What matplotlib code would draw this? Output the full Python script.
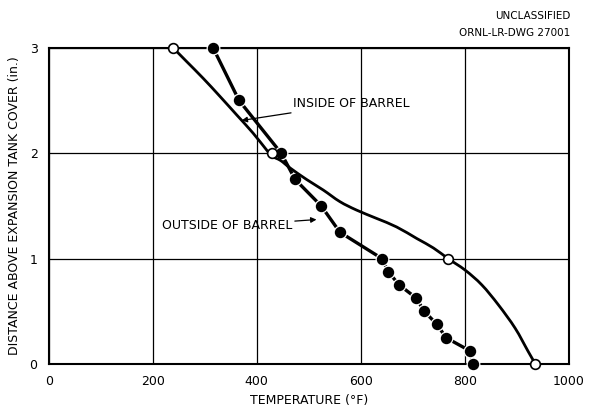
import matplotlib
matplotlib.use("Agg")
import matplotlib.pyplot as plt
from matplotlib.path import Path
from matplotlib.patches import PathPatch

# Outside of barrel (filled points)
out_temp = [316, 366, 447, 474, 524, 560, 641, 653, 674, 707, 722, 747, 764, 810, 816]
out_dist = [3.0, 2.5, 2.0, 1.75, 1.5, 1.25, 1.0, 0.875, 0.75, 0.625, 0.5, 0.375, 0.25, 0.125, 0.0]

# Inside of barrel (measured open points)
in_temp_pts = [239, 430, 768, 936]
in_dist_pts = [3.0, 2.0, 1.0, 0.0]

# Inside of barrel smooth curve
in_curve_temp = [239, 265, 297, 329, 362, 393, 419, 430, 446, 464, 496, 528, 560, 592,
                 631, 669, 708, 740, 768, 801, 833, 865, 897, 922, 936]
in_curve_dist = [3.0, 2.87, 2.71, 2.54, 2.36, 2.19, 2.03, 1.97, 1.93, 1.86, 1.75, 1.65, 1.54, 1.46,
                 1.38, 1.30, 1.19, 1.10, 1.0, 0.89, 0.75, 0.56, 0.34, 0.12, 0.0]

x_ticks = [0, 200, 400, 600, 800, 1000]
x_ticklabels = ["0", "200", "400", "600", "800", "1000"]
y_ticks = [0, 1, 2, 3]
y_ticklabels = ["0", "1", "2", "3"]


def smooth_path(xs, ys):
    """Catmull-Rom spline through the traced points, drawn as cubic Beziers."""
    pts = list(zip(xs, ys))
    n = len(pts)
    verts = [pts[0]]
    codes = [Path.MOVETO]
    for i in range(n - 1):
        p0 = pts[i - 1] if i > 0 else pts[i]
        p1 = pts[i]
        p2 = pts[i + 1]
        p3 = pts[i + 2] if i + 2 < n else pts[i + 1]
        c1 = (p1[0] + (p2[0] - p0[0]) / 6.0, p1[1] + (p2[1] - p0[1]) / 6.0)
        c2 = (p2[0] - (p3[0] - p1[0]) / 6.0, p2[1] - (p3[1] - p1[1]) / 6.0)
        verts += [c1, c2, p2]
        codes += [Path.CURVE4] * 3
    return Path(verts, codes)


plt.rcParams['font.family'] = ['DejaVu Sans']
fig = plt.figure(figsize=(5.89, 4.08), dpi=100)
ax = fig.add_axes([0.0827, 0.1078, 0.8828, 0.7753])
ax.set_xlim(0, 1000)
ax.set_ylim(0, 3)

ax.set_xticks(x_ticks)
ax.set_xticklabels(x_ticklabels, fontsize=9)
ax.set_yticks(y_ticks)
ax.set_yticklabels(y_ticklabels, fontsize=9)
ax.tick_params(length=0, pad=8)
ax.grid(True, color='black', linewidth=0.9)
for s in ax.spines.values():
    s.set_linewidth(1.5)
    s.set_color('black')

# Outside of barrel: thick line with gaps at markers
ax.plot(out_temp, out_dist, color='black', linewidth=2.4, marker='o', markersize=7.8,
        markerfacecolor='black', markeredgecolor='white', markeredgewidth=2.2, zorder=3, clip_on=False)
ax.plot(out_temp, out_dist, linestyle='none', marker='o', markersize=7.2,
        markerfacecolor='black', markeredgecolor='black', zorder=4, clip_on=False)

# Inside of barrel: smooth curve with open circles
patch = PathPatch(smooth_path(in_curve_temp, in_curve_dist), facecolor='none',
                  edgecolor='black', linewidth=2.0, zorder=5, clip_on=False)
ax.add_patch(patch)
ax.plot(in_temp_pts, in_dist_pts, linestyle='none', marker='o', markersize=7,
        markerfacecolor='white', markeredgecolor='black', markeredgewidth=1.2, zorder=6, clip_on=False)

# Annotations
ax.annotate("INSIDE OF BARREL", xy=(371, 2.31), xytext=(470, 2.47),
            fontsize=9, va='center', ha='left',
            arrowprops=dict(arrowstyle='-|>', color='black', lw=0.9, shrinkA=0, shrinkB=0,
                            mutation_scale=8))
ax.annotate("OUTSIDE OF BARREL", xy=(515, 1.37), xytext=(468, 1.31),
            fontsize=9, va='center', ha='right',
            arrowprops=dict(arrowstyle='-|>', color='black', lw=0.9, shrinkA=0, shrinkB=0,
                            mutation_scale=8))

ax.set_xlabel("TEMPERATURE (°F)", fontsize=9, labelpad=4)
ax.set_ylabel("DISTANCE ABOVE EXPANSION TANK COVER (in.)", fontsize=9, labelpad=6)

fig.text(0.905, 0.962, "UNCLASSIFIED", fontsize=7.5, ha='center', va='center')
fig.text(0.968, 0.92, "ORNL-LR-DWG 27001", fontsize=7.5, ha='right', va='center')

fig.savefig("out.png", dpi=100)
